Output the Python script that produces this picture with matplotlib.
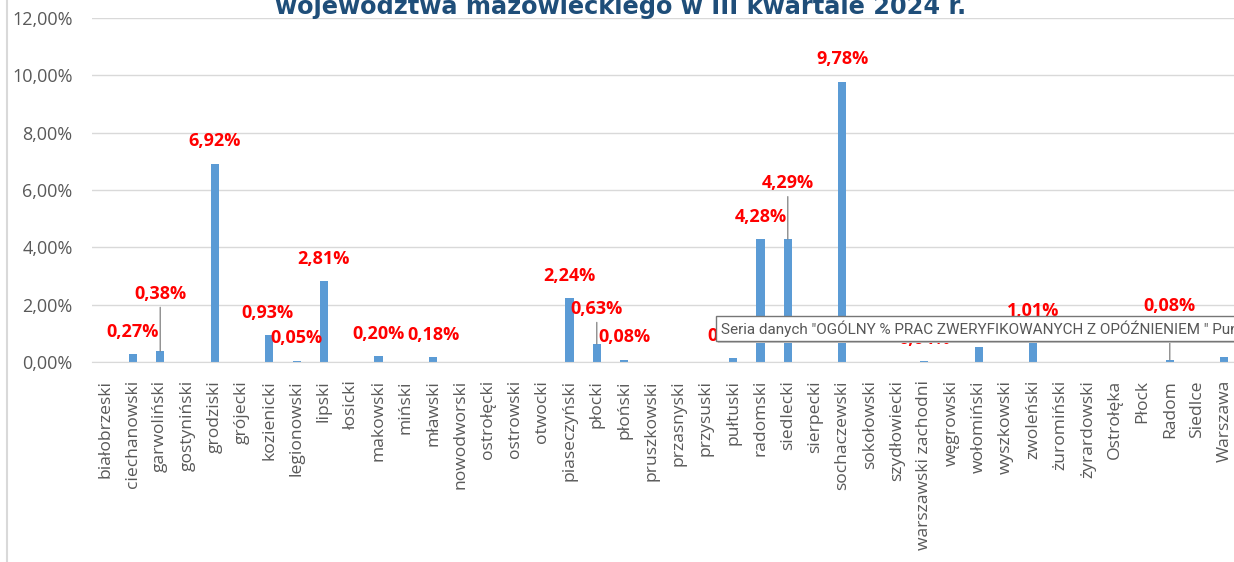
import numpy as np
import matplotlib.pyplot as plt
from matplotlib import font_manager
from matplotlib.lines import Line2D
from matplotlib.patches import Rectangle

powiaty = ['białobrzeski', 'ciechanowski', 'garwoliński', 'gostyniński', 'grodziski',
           'grójecki', 'kozienicki', 'legionowski', 'lipski', 'łosicki', 'makowski',
           'miński', 'mławski', 'nowodworski', 'ostrołęcki', 'ostrowski', 'otwocki',
           'piaseczyński', 'płocki', 'płoński', 'pruszkowski', 'przasnyski', 'przysuski',
           'pułtuski', 'radomski', 'siedlecki', 'sierpecki', 'sochaczewski', 'sokołowski',
           'szydłowiecki', 'warszawski zachodni', 'węgrowski', 'wołomiński', 'wyszkowski',
           'zwoleński', 'żuromiński', 'żyrardowski', 'Ostrołęka', 'Płock', 'Radom',
           'Siedlce', 'Warszawa']

# ogolny % prac zweryfikowanych z opoznieniem
wartosci = [0, 0.27, 0.38, 0, 6.92, 0, 0.93, 0.05, 2.81, 0, 0.20, 0, 0.18, 0, 0, 0, 0,
            2.24, 0.63, 0.08, 0, 0, 0, 0.13, 4.28, 4.29, 0, 9.78, 0, 0, 0.04, 0, 0.53, 0,
            1.01, 0, 0, 0, 0, 0.08, 0, 0.17]

y_ticks = [0, 2, 4, 6, 8, 10, 12]

tytul = 'województwa mazowieckiego w III kwartale 2024 r.'
dymek = 'Seria danych "OGÓLNY % PRAC ZWERYFIKOWANYCH Z OPÓŹNIENIEM " Punkt "'

# etykiety przesuniete w gore z linia odniesienia (offset w punktach)
leader = {'garwoliński': 41, 'płocki': 25, 'siedlecki': 40, 'Radom': 39}
shift_x = {'Warszawa': -16.5, 'kozienicki': -1.5}

names = {f.name for f in font_manager.fontManager.ttflist}
tip_font = 'Liberation Sans Narrow' if 'Liberation Sans Narrow' in names else 'Roboto'

W, H = 1234, 562
fig = plt.figure(figsize=(W / 100, H / 100), dpi=100)
ax = fig.add_axes([92 / W, 1 - 362 / H, 1146 / W, 344 / H])

x = np.arange(len(powiaty))
ax.bar(x, wartosci, width=0.3, color='#5B9BD5', zorder=2)

ax.set_xlim(-0.5, len(powiaty) - 0.5)
ax.set_ylim(0, 12)
ax.set_yticks(y_ticks)
ax.set_yticklabels([('%.2f%%' % t).replace('.', ',') for t in y_ticks],
                   fontsize=13, color='#595959', family='Open Sans')
ax.set_xticks(x)
ax.set_xticklabels(powiaty, rotation=90, fontsize=12.6, color='#595959', family='Open Sans')
ax.tick_params(axis='x', length=0, pad=13)
ax.tick_params(axis='y', length=0, pad=14)
ax.yaxis.grid(True, color='#D9D9D9', lw=1)
ax.set_axisbelow(True)
for s in ['left', 'top', 'right']:
    ax.spines[s].set_visible(False)
ax.spines['bottom'].set_color('#D9D9D9')

for i, (p, v) in enumerate(zip(powiaty, wartosci)):
    if v == 0:
        continue
    txt = ('%.2f%%' % v).replace('.', ',')
    dx = shift_x.get(p, 0)
    if p in leader:
        ax.annotate(txt, xy=(i, v), xytext=(dx, leader[p]), textcoords='offset points',
                    ha='center', va='center', color='#FF0000', fontsize=13,
                    fontweight='bold', family='Open Sans', zorder=3,
                    arrowprops=dict(arrowstyle='-', color='#808080', lw=0.9,
                                    shrinkA=1, shrinkB=0, relpos=(0.5, 0)))
    else:
        ax.annotate(txt, xy=(i, v), xytext=(dx, 16), textcoords='offset points',
                    ha='center', va='center', color='#FF0000', fontsize=13,
                    fontweight='bold', family='Open Sans', zorder=3)

fig.text(621 / W, 1 - 14 / H, tytul, ha='center', va='baseline', fontsize=17.3,
         fontweight='bold', color='#1F4E79', family='DejaVu Sans')

# ramka wykresu z lewej
fig.add_artist(Line2D([7 / W, 7 / W], [0, 1], transform=fig.transFigure, color='#D9D9D9', lw=1.5))

# dymek podpowiedzi
fig.add_artist(Rectangle((718 / W, 1 - 343 / H), 0.5, 25 / H, transform=fig.transFigure,
                         fc='#C8C8C8', ec='none', zorder=5))
fig.add_artist(Rectangle((716 / W, 1 - 341 / H), 0.5, 25 / H, transform=fig.transFigure,
                         fc='white', ec='#767676', lw=1, zorder=6))
fig.text(721 / W, 1 - 329 / H, dymek, ha='left', va='center', fontsize=11,
         color='#575757', family=tip_font, zorder=7)

fig.savefig('out.png', dpi=100)
